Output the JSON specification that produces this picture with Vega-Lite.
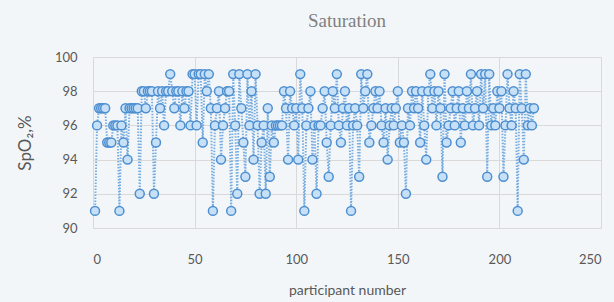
{
  "$schema": "https://vega.github.io/schema/vega-lite/v6.json",
  "width": 508,
  "height": 171,
  "autosize": {"type": "none"},
  "padding": {"left": 93, "top": 57, "right": 13, "bottom": 74},
  "background": "#f3f6f8",
  "title": {"text": "Saturation", "font": "Liberation Serif", "fontSize": 19, "fontWeight": "normal", "color": "#808080", "offset": 20, "anchor": "middle"},
  "config": {"view": {"stroke": null}},
  "data": {"values": [
{"p":1,"s":91},{"p":2,"s":96},{"p":3,"s":97},{"p":4,"s":97},{"p":5,"s":97},{"p":6,"s":97},{"p":7,"s":95},{"p":8,"s":95},{"p":9,"s":95},{"p":10,"s":96},
{"p":11,"s":96},{"p":12,"s":96},{"p":13,"s":91},{"p":14,"s":96},{"p":15,"s":95},{"p":16,"s":97},{"p":17,"s":94},{"p":18,"s":97},{"p":19,"s":97},{"p":20,"s":97},
{"p":21,"s":97},{"p":22,"s":97},{"p":23,"s":92},{"p":24,"s":98},{"p":25,"s":98},{"p":26,"s":97},{"p":27,"s":98},{"p":28,"s":98},{"p":29,"s":98},{"p":30,"s":92},
{"p":31,"s":95},{"p":32,"s":98},{"p":33,"s":97},{"p":34,"s":98},{"p":35,"s":96},{"p":36,"s":98},{"p":37,"s":98},{"p":38,"s":99},{"p":39,"s":98},{"p":40,"s":97},
{"p":41,"s":98},{"p":42,"s":98},{"p":43,"s":96},{"p":44,"s":98},{"p":45,"s":97},{"p":46,"s":98},{"p":47,"s":98},{"p":48,"s":96},{"p":49,"s":99},{"p":50,"s":99},
{"p":51,"s":96},{"p":52,"s":99},{"p":53,"s":99},{"p":54,"s":95},{"p":55,"s":99},{"p":56,"s":98},{"p":57,"s":99},{"p":58,"s":97},{"p":59,"s":91},{"p":60,"s":96},
{"p":61,"s":97},{"p":62,"s":98},{"p":63,"s":94},{"p":64,"s":96},{"p":65,"s":97},{"p":66,"s":98},{"p":67,"s":98},{"p":68,"s":91},{"p":69,"s":99},{"p":70,"s":96},
{"p":71,"s":92},{"p":72,"s":99},{"p":73,"s":97},{"p":74,"s":95},{"p":75,"s":93},{"p":76,"s":99},{"p":77,"s":96},{"p":78,"s":98},{"p":79,"s":94},{"p":80,"s":99},
{"p":81,"s":96},{"p":82,"s":92},{"p":83,"s":95},{"p":84,"s":96},{"p":85,"s":92},{"p":86,"s":97},{"p":87,"s":93},{"p":88,"s":96},{"p":89,"s":95},{"p":90,"s":96},
{"p":91,"s":96},{"p":92,"s":96},{"p":93,"s":96},{"p":94,"s":98},{"p":95,"s":97},{"p":96,"s":94},{"p":97,"s":98},{"p":98,"s":97},{"p":99,"s":96},{"p":100,"s":97},
{"p":101,"s":94},{"p":102,"s":99},{"p":103,"s":97},{"p":104,"s":91},{"p":105,"s":96},{"p":106,"s":97},{"p":107,"s":98},{"p":108,"s":94},{"p":109,"s":96},{"p":110,"s":92},
{"p":111,"s":96},{"p":112,"s":96},{"p":113,"s":97},{"p":114,"s":98},{"p":115,"s":95},{"p":116,"s":93},{"p":117,"s":96},{"p":118,"s":98},{"p":119,"s":97},{"p":120,"s":99},
{"p":121,"s":96},{"p":122,"s":95},{"p":123,"s":97},{"p":124,"s":98},{"p":125,"s":96},{"p":126,"s":97},{"p":127,"s":91},{"p":128,"s":96},{"p":129,"s":97},{"p":130,"s":96},
{"p":131,"s":93},{"p":132,"s":99},{"p":133,"s":97},{"p":134,"s":98},{"p":135,"s":99},{"p":136,"s":95},{"p":137,"s":96},{"p":138,"s":97},{"p":139,"s":98},{"p":140,"s":97},
{"p":141,"s":98},{"p":142,"s":96},{"p":143,"s":95},{"p":144,"s":97},{"p":145,"s":94},{"p":146,"s":96},{"p":147,"s":97},{"p":148,"s":96},{"p":149,"s":97},{"p":150,"s":98},
{"p":151,"s":95},{"p":152,"s":96},{"p":153,"s":95},{"p":154,"s":92},{"p":155,"s":97},{"p":156,"s":96},{"p":157,"s":98},{"p":158,"s":97},{"p":159,"s":98},{"p":160,"s":97},
{"p":161,"s":95},{"p":162,"s":98},{"p":163,"s":96},{"p":164,"s":94},{"p":165,"s":98},{"p":166,"s":99},{"p":167,"s":97},{"p":168,"s":98},{"p":169,"s":96},{"p":170,"s":98},
{"p":171,"s":97},{"p":172,"s":93},{"p":173,"s":99},{"p":174,"s":95},{"p":175,"s":96},{"p":176,"s":97},{"p":177,"s":98},{"p":178,"s":96},{"p":179,"s":97},{"p":180,"s":98},
{"p":181,"s":95},{"p":182,"s":97},{"p":183,"s":96},{"p":184,"s":98},{"p":185,"s":97},{"p":186,"s":99},{"p":187,"s":96},{"p":188,"s":97},{"p":189,"s":98},{"p":190,"s":96},
{"p":191,"s":99},{"p":192,"s":97},{"p":193,"s":99},{"p":194,"s":93},{"p":195,"s":99},{"p":196,"s":96},{"p":197,"s":97},{"p":198,"s":96},{"p":199,"s":98},{"p":200,"s":97},
{"p":201,"s":98},{"p":202,"s":93},{"p":203,"s":96},{"p":204,"s":99},{"p":205,"s":97},{"p":206,"s":96},{"p":207,"s":98},{"p":208,"s":97},{"p":209,"s":91},{"p":210,"s":99},
{"p":211,"s":97},{"p":212,"s":94},{"p":213,"s":99},{"p":214,"s":96},{"p":215,"s":97},{"p":216,"s":96},{"p":217,"s":97}
  ]},
  "encoding": {
    "x": {"field": "p", "type": "quantitative", "scale": {"domain": [0, 250], "nice": false},
      "axis": {"title": "participant number", "values": [0, 50, 100, 150, 200, 250], "grid": true, "gridColor": "#d9d9d9", "domain": false, "ticks": false,
        "labelFont": "Lato", "labelFontSize": 13, "labelColor": "#595959", "labelPadding": 25,
        "titleFont": "Lato", "titleFontSize": 14, "titleFontWeight": "normal", "titleColor": "#595959", "titlePadding": 17}},
    "y": {"field": "s", "type": "quantitative", "scale": {"domain": [90, 100], "nice": false, "zero": false},
      "axis": {"title": "SpO₂,%", "values": [90, 92, 94, 96, 98, 100], "grid": true, "gridColor": "#d9d9d9", "domain": false, "ticks": false,
        "labelFont": "Lato", "labelFontSize": 13, "labelColor": "#595959", "labelPadding": 16,
        "titleFont": "Lato", "titleFontSize": 17, "titleFontWeight": "normal", "titleColor": "#595959", "titlePadding": 20}}
  },
  "layer": [
    {"mark": {"type": "line", "color": "#7aaee0", "strokeWidth": 2, "strokeDash": [1.5, 1.5]}},
    {"mark": {"type": "point", "shape": "circle", "filled": true, "fill": "#c5e0f7", "fillOpacity": 1, "stroke": "#4f8fd0", "strokeWidth": 1.5, "size": 80}}
  ]
}
